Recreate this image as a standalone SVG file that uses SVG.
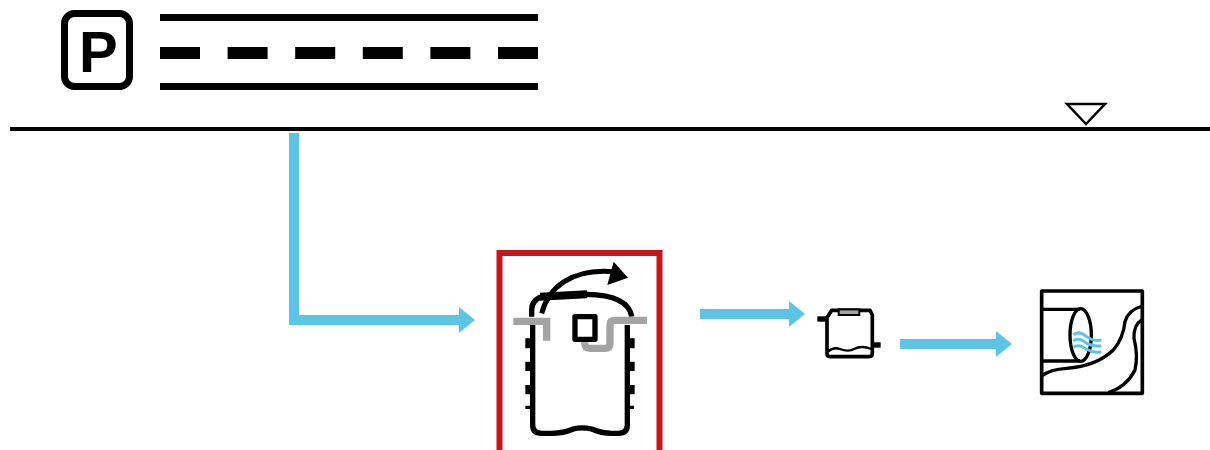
<svg xmlns="http://www.w3.org/2000/svg" width="1210" height="450" viewBox="0 0 1210 450">
<style>
.k{fill:none;stroke:#000;stroke-linejoin:round;stroke-linecap:butt}
.b{fill:none;stroke:#5cc5e5}
.g{fill:none;stroke:#a3a3a3}
</style>
<defs>
<marker id="ah" markerUnits="userSpaceOnUse" markerWidth="18" markerHeight="28" refX="1" refY="14" orient="auto">
<path d="M1,1 L17,14 L1,27 Z" fill="#5cc5e5"/>
</marker>
</defs>
<rect width="1210" height="450" fill="#fff"/>
<g id="parking">
<rect x="64.500" y="13.500" width="65" height="73" rx="10" class="k" stroke-width="7"/>
<text x="79" y="72" font-family="'Liberation Sans',Arial,sans-serif" font-weight="700" font-size="58">P</text>
</g>
<g id="road">
<rect x="160" y="14" width="378" height="7"/>
<rect x="160" y="83" width="378" height="7"/>
<path d="M160,53 H538" stroke="#000" stroke-width="12" fill="none" stroke-dasharray="40 27.6"/>
</g>
<g id="ground">
<rect x="10" y="127" width="1200" height="4"/>
<path d="M1067,104 H1105 L1086,124 Z" fill="#fff" stroke="#000" stroke-width="2.5"/>
</g>
<g id="connectors">
<path class="b" stroke-width="10" d="M294,133 V320 H459" marker-end="url(#ah)"/>
<path class="b" stroke-width="10" d="M700,314 H789" marker-end="url(#ah)"/>
<path class="b" stroke-width="10" d="M900,344 H996" marker-end="url(#ah)"/>
</g>
<g id="separator">
<rect x="499.500" y="253" width="160" height="200" fill="none" stroke="#c8161d" stroke-width="6"/>
<g transform="translate(490 245) scale(.3333)">
<path class="k" stroke-width="16" d="M125,215 V195 Q125,165 155,155 L290,148 Q415,150 425,215"/>
<path d="M150,143 L290,136 Q298,148 290,160 L150,167 Z"/>
<path class="k" stroke-width="16" d="M128,240 V540 Q128,565 155,565 H185 Q220,565 250,552 Q275,545 305,552 Q335,565 365,565 H385 Q412,565 412,540 V240"/>
<path d="M106,280H128V310H106ZM106,350H128V378H106ZM106,420H128V448H106ZM106,482H128V492H106ZM412,280H434V310H412ZM412,350H434V378H412ZM412,420H434V448H412ZM412,482H432V492H412Z"/>
<path class="g" stroke-width="22" d="M70,229 H170 V287"/>
<path class="g" stroke-width="22" d="M471,226 H375 Q360,226 360,240 V295 Q360,310 345,310 H300 Q284,310 284,292"/>
<rect x="255" y="215" width="60" height="68" fill="#fff" class="k" stroke-width="16"/>
<path class="k" stroke-width="15" d="M155,205 C175,130 240,70 370,80"/>
<path d="M371,50 L414,98 L352,120 Z"/>
</g>
</g>
<g id="tank">
<g transform="translate(800 285) scale(.3333)">
<path class="k" stroke-width="11" d="M80,100 L95,76 H210 L217,90 V205 Q217,215 207,215 H90 Q81,215 81,205 V100"/>
<rect x="116" y="73" width="62" height="17" fill="#a3a3a3" stroke="#000" stroke-width="6"/>
<rect x="52" y="94" width="30" height="16"/>
<rect x="217" y="172" width="25" height="16"/>
<path class="k" stroke-width="7" d="M84,200 Q100,185 120,192 Q145,202 162,192 Q185,180 214,192"/>
</g>
</g>
<g id="outfall">
<g transform="translate(1030 280) scale(.3333)">
<rect x="35" y="33" width="302" height="307" class="k" stroke-width="11" fill="#fff"/>
<path class="k" stroke-width="10" d="M35,88 H150 M35,243 H150"/>
<ellipse cx="152" cy="165" rx="32" ry="79" class="k" stroke-width="10" fill="#fff"/>
<path class="k" stroke-width="10" d="M35,288 Q60,268 110,265 Q200,258 250,210 Q280,175 285,125 Q295,90 337,78"/>
<path class="k" stroke-width="10" d="M337,118 Q310,135 312,175 Q325,225 315,270 Q290,320 235,338"/>
<path class="b" stroke-width="9" d="M130,165 Q145,150 170,170 Q190,185 214,180 M130,183 Q145,170 170,190 Q190,200 214,197 M130,202 Q145,190 170,208 Q190,220 214,216"/>
</g>
</g>
</svg>
